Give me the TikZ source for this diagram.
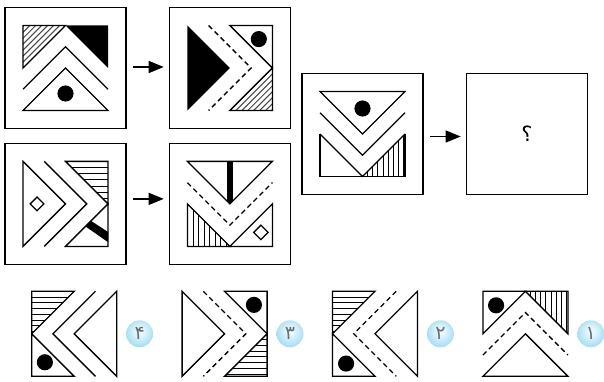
\documentclass[tikz,border=0pt]{standalone}
\usepackage{fontspec}
\usetikzlibrary{positioning, arrows.meta}
\TeXXeTstate=1
\newfontfamily\persianfont[Script=Arabic]{DejaVu Sans}

\definecolor{HatchGray}{RGB}{70, 70, 70}
\definecolor{BadgeIn}{RGB}{232, 248, 254}
\definecolor{BadgeOut}{RGB}{95, 190, 232}
\definecolor{DigitGray}{RGB}{105, 110, 115}

\pgfdeclareradialshading{badgeball}{\pgfpoint{0bp}{6bp}}{%
    color(0bp)=(BadgeIn); color(6bp)=(BadgeIn); color(50bp)=(BadgeOut)}

\tikzset{
    frame/.style={
        draw,
        line width=1.4pt,
        minimum size=121pt,
        inner sep=0pt
    },
    slot/.style={minimum size=85pt, inner sep=0pt},
    part/.style={draw, line width=1.3pt},
    dashpart/.style={line width=1.3pt, dash pattern=on 5pt off 3.5pt},
    hatch/.style={line width=0.8pt},
    slant/.style={draw=HatchGray, line width=1pt},
    flow/.style={
        line width=1.3pt,
        -{Triangle[length=15pt, width=12pt]},
        shorten <=6.5pt,
        shorten >=5pt
    },
    badge/.style={
        circle,
        minimum size=27pt,
        inner sep=0pt,
        shading=badgeball,
        text=DigitGray,
        font=\persianfont\fontsize{19}{19}\selectfont
    },
    figat/.style={shift={(#1.center)}, x=42.5pt, y=42.5pt}
}

\begin{document}
\begin{tikzpicture}[x=1pt, y=-1pt]
    \useasboundingbox (0,0) rectangle (604,382);

    % ============================================================================
    % FRAMES
    % ============================================================================

    % Pair one and pair two
    \node[frame] (b1) at (65.5,68) {};
    \node[frame, right=42pt of b1] (b2) {};
    \node[frame, below=13.5pt of b1] (b3) {};
    \node[frame, right=42pt of b3] (b4) {};

    % Question pair
    \node[frame] (b5) at (362.5,134) {};
    \node[frame, right=42pt of b5, font=\persianfont\fontsize{21}{21}\selectfont] (b6) {\beginR ؟\endR};

    % Arrows
    \draw[flow] ([yshift=1pt]b1.east) -- ([yshift=1pt]b2.west);
    \draw[flow] ([yshift=5pt]b3.east) -- ([yshift=5pt]b4.west);
    \draw[flow] ([yshift=-2.5pt]b5.east) -- ([yshift=-2.5pt]b6.west);

    % ============================================================================
    % FIGURES
    % ============================================================================

    % b1
    \begin{scope}[figat=b1]
        \begin{scope}
            \clip (-1,1) -- (0,1) -- (-1,0) -- cycle;
            \foreach \s in {-1.98,-1.84,...,-1.1} \draw[slant] ({\s-2},-2) -- ({\s+2},2);
        \end{scope}
        \draw[part] (-1,1) -- (0,1) -- (-1,0) -- cycle;
        \fill (0,1) -- (1,1) -- (1,0) -- cycle;
        \draw[part] (-1,-0.5) -- (0,0.5) -- (1,-0.5);
        \draw[part] (-1,-1) -- (1,-1) -- (0,0) -- cycle;
        \fill (0,-0.6) circle[radius=0.19];
    \end{scope}

    % b2
    \begin{scope}[figat=b2]
        \fill (-1,1) -- (0,0) -- (-1,-1) -- cycle;
        \draw[dashpart] (-0.5,1) -- (0.5,0) -- (-0.5,-1);
        \draw[part] (0,1) -- (1,1) -- (1,0) -- cycle;
        \fill (0.68,0.68) circle[radius=0.19];
        \begin{scope}
            \clip (0,-1) -- (1,-1) -- (1,0) -- cycle;
            \foreach \s in {1.14,1.28,...,2} \draw[slant] ({\s-2},-2) -- ({\s+2},2);
        \end{scope}
        \draw[part] (0,-1) -- (1,-1) -- (1,0) -- cycle;
    \end{scope}

    % b3
    \begin{scope}[figat=b3]
        \draw[part] (-1,1) -- (0,0) -- (-1,-1) -- cycle;
        \draw[part] (-0.83,0) -- (-0.67,0.16) -- (-0.51,0) -- (-0.67,-0.16) -- cycle;
        \draw[part] (-0.5,1) -- (0.5,0) -- (-0.5,-1);
        \begin{scope}
            \clip (0,1) -- (1,1) -- (1,0) -- cycle;
            \foreach \k in {1,...,7} \draw[hatch] (-1,{1-0.145*\k}) -- (1,{1-0.145*\k});
        \end{scope}
        \draw[part] (0,1) -- (1,1) -- (1,0) -- cycle;
        \fill (0.47,-0.53) -- (0.6,-0.4) -- (1,-0.66) -- (1,-0.9) -- cycle;
        \draw[part] (0,-1) -- (1,-1) -- (1,0) -- cycle;
    \end{scope}

    % b4
    \begin{scope}[figat=b4]
        \begin{scope}
            \clip (-1,1) -- (1,1) -- (0,0) -- cycle;
            \fill (-0.07,1) rectangle (0.07,0);
        \end{scope}
        \draw[part] (-1,1) -- (1,1) -- (0,0) -- cycle;
        \draw[dashpart] (-1,0.5) -- (0,-0.5) -- (1,0.5);
        \begin{scope}
            \clip (-1,0) -- (-1,-1) -- (0,-1) -- cycle;
            \foreach \k in {1,...,7} \draw[hatch] ({-1+0.13*\k},0) -- ({-1+0.13*\k},-1);
        \end{scope}
        \draw[part] (-1,0) -- (-1,-1) -- (0,-1) -- cycle;
        \draw[part] (0,-1) -- (1,-1) -- (1,0) -- cycle;
        \draw[part] (0.56,-0.67) -- (0.73,-0.5) -- (0.9,-0.67) -- (0.73,-0.84) -- cycle;
    \end{scope}

    % b5
    \begin{scope}[figat=b5]
        \draw[part] (-1,1) -- (1,1) -- (0,0) -- cycle;
        \fill (0,0.6) circle[radius=0.19];
        \draw[part] (-1,0.5) -- (0,-0.5) -- (1,0.5);
        \begin{scope}
            \clip (0,-1) -- (1,-1) -- (1,0) -- cycle;
            \foreach \k in {1,...,8} \draw[hatch] ({0.12*\k},0) -- ({0.12*\k},-1);
        \end{scope}
        \draw[part] (-1,0) -- (-1,-1) -- (1,-1) -- (1,0);
        \draw[part] (-1,0) -- (0,-1) -- (1,0);
    \end{scope}

    % ============================================================================
    % OPTIONS
    % ============================================================================

    \node[slot] (o4) at (74.2,333.8) {};
    \node[slot, right=65pt of o4] (o3) {};
    \node[slot, right=65pt of o3] (o2) {};
    \node[slot, right=65pt of o2] (o1) {};

    \node[badge, right=9pt of o4] (n4) {۴};
    \node[badge, right=9pt of o3] (n3) {۳};
    \node[badge, right=9pt of o2] (n2) {۲};
    \node[badge, right=9pt of o1] (n1) {۱};

    % o4
    \begin{scope}[figat=o4]
        \begin{scope}
            \clip (-1,1) -- (0,1) -- (-1,0) -- cycle;
            \foreach \k in {1,...,7} \draw[hatch] (-1,{1-0.135*\k}) -- (1,{1-0.135*\k});
        \end{scope}
        \draw[part] (-1,1) -- (0,1) -- (-1,0) -- cycle;
        \draw[part] (-1,0) -- (-1,-1) -- (0,-1) -- cycle;
        \fill (-0.69,-0.67) circle[radius=0.19];
        \draw[part] (0.5,1) -- (-0.5,0) -- (0.5,-1);
        \draw[part] (1,1) -- (0,0) -- (1,-1) -- cycle;
    \end{scope}

    % o3
    \begin{scope}[figat=o3]
        \draw[part] (-1,1) -- (0,0) -- (-1,-1) -- cycle;
        \draw[dashpart] (-0.5,1) -- (0.5,0) -- (-0.5,-1);
        \draw[part] (0,1) -- (1,1) -- (1,0) -- cycle;
        \fill (0.69,0.68) circle[radius=0.19];
        \begin{scope}
            \clip (0,-1) -- (1,-1) -- (1,0) -- cycle;
            \foreach \k in {1,...,7} \draw[hatch] (-1,{-0.135*\k}) -- (1,{-0.135*\k});
        \end{scope}
        \draw[part] (0,-1) -- (1,-1) -- (1,0) -- cycle;
    \end{scope}

    % o2
    \begin{scope}[figat=o2]
        \begin{scope}
            \clip (-1,1) -- (0,1) -- (-1,0) -- cycle;
            \foreach \k in {1,...,7} \draw[hatch] (-1,{1-0.135*\k}) -- (1,{1-0.135*\k});
        \end{scope}
        \draw[part] (-1,1) -- (0,1) -- (-1,0) -- cycle;
        \draw[part] (-1,0) -- (-1,-1) -- (0,-1) -- cycle;
        \fill (-0.68,-0.7) circle[radius=0.19];
        \draw[dashpart] (0.5,1) -- (-0.5,0) -- (0.5,-1);
        \draw[part] (1,1) -- (0,0) -- (1,-1) -- cycle;
    \end{scope}

    % o1
    \begin{scope}[figat=o1]
        \draw[part] (-1,1) -- (0,1) -- (-1,0) -- cycle;
        \fill (-0.69,0.67) circle[radius=0.19];
        \begin{scope}
            \clip (0,1) -- (1,1) -- (1,0) -- cycle;
            \foreach \k in {1,...,8} \draw[hatch] ({0.12*\k},1) -- ({0.12*\k},0);
        \end{scope}
        \draw[part] (0,1) -- (1,1) -- (1,0) -- cycle;
        \draw[dashpart] (-1,-0.5) -- (0,0.5) -- (1,-0.5);
        \draw[part] (-1,-1) -- (1,-1) -- (0,0) -- cycle;
    \end{scope}

\end{tikzpicture}
\end{document}
